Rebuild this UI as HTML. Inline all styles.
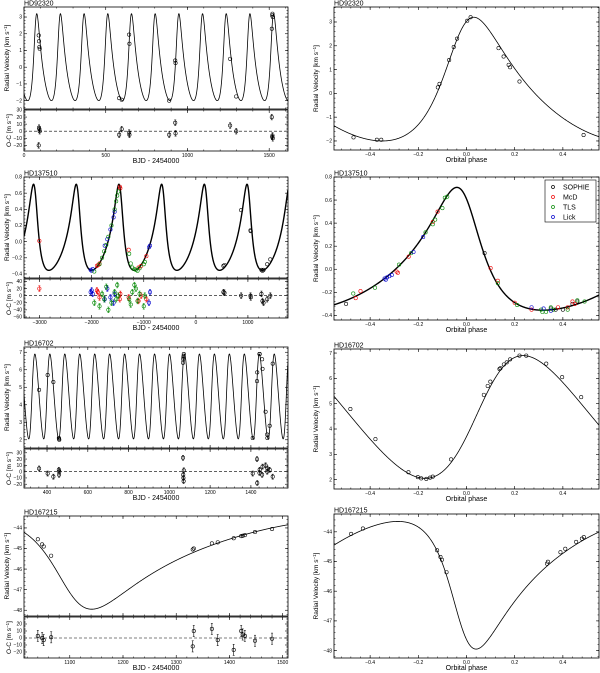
<!DOCTYPE html>
<html><head><meta charset="utf-8">
<style>
html,body{margin:0;padding:0;background:#fff;}
svg{display:block;font-family:"Liberation Sans",sans-serif;}
</style></head>
<body>
<svg id="fig" width="600" height="673" viewBox="0 0 600 673" xmlns="http://www.w3.org/2000/svg"></svg>
<script>
// ---------- DATA ----------
// HD92320 (time domain)
const hd92_t = [90,92,94,96,582,598,643,645,888,925,927,1261,1298,1516,1518,1520,1522];
const hd92_rv = [1.9,1.55,1.2,1.1,-1.85,-1.95,1.95,1.4,-2.0,0.4,0.25,0.5,-1.75,2.3,3.1,3.2,3.0];
const hd92_oc = [-20,5,3,0,-5,3,-2,-5,-5,12,-3,8,0,20,-8,-6,-10];
// HD92320 (phase domain)
const hd92_ph = [-0.469,-0.372,-0.354,-0.119,-0.112,-0.072,-0.053,-0.039,0.003,0.017,0.133,0.154,0.175,0.181,0.22,0.486];
const hd92_prv = [-1.85,-1.95,-1.95,0.25,0.4,1.4,1.95,2.3,3.05,3.2,1.9,1.55,1.2,1.1,0.5,-1.75];
const hd92_fit = {P:144.9, T0:73.6, e:0.32, w:-35, peak:0.03, max:3.2, min:-2.0};

// HD137510 (inst: 0 SOPHIE, 1 McD, 2 TLS, 3 Lick)
const hd137_t = [-2020,-2000,-1980,-1750,-1700,-1640,-1580,-1560,-900,-880,
  -3005,-1900,-1880,-1850,-1460,-1450,-1290,-1100,-1050,-950,
  -1950,-1850,-1800,-1760,-1720,-1680,-1620,-1560,-1530,-1510,-1490,-1280,-1250,-1220,-1180,-1150,-1120,-1080,-1000,-980,
  530,550,870,1050,1055,1260,1280,1300,1370,1430];
const hd137_rv = [-0.35,-0.36,-0.34,-0.05,0.03,0.15,0.3,0.37,-0.07,-0.05,
  0.01,-0.3,-0.29,-0.27,0.68,0.66,-0.1,-0.32,-0.3,-0.18,
  -0.37,-0.28,-0.2,-0.12,-0.04,0.06,0.2,0.4,0.5,0.57,0.62,-0.15,-0.27,-0.32,-0.34,-0.35,-0.36,-0.33,-0.28,-0.25,
  -0.3,-0.29,0.39,0.14,0.13,-0.35,-0.36,-0.35,-0.28,-0.22];
const hd137_oc = [10,15,5,-10,20,-5,-20,5,-20,10,
  20,15,10,-5,-10,5,-5,-15,0,-10,
  -20,-30,5,-10,25,-40,-20,10,-10,30,0,-10,-25,10,30,20,-15,5,-30,0,
  10,8,0,0,-5,5,-15,-20,-10,0];
const hd137_inst = [3,3,3,3,3,3,3,3,3,3, 1,1,1,1,1,1,1,1,1,1,
  2,2,2,2,2,2,2,2,2,2,2,2,2,2,2,2,2,2,2,2, 0,0,0,0,0,0,0,0,0,0];
const hd137_ph = [-0.5,0.075,0.35,0.37,0.4,0.44,0.46,
  -0.46,-0.44,-0.29,-0.285,-0.24,-0.14,-0.12,0.1,0.13,0.2,0.27,0.38,0.42,0.45,0.44,
  -0.47,-0.38,-0.28,-0.23,-0.17,-0.14,-0.13,-0.1,-0.09,-0.08,0.13,0.21,0.31,0.33,0.35,0.36,0.42,0.46,0.49,0.315,
  -0.33,-0.335,-0.32,-0.31,-0.22,-0.18,0.27,0.32,0.35,-0.34];
const hd137_prv = [-0.3,0.14,-0.34,-0.35,-0.35,-0.3,-0.28,
  -0.25,-0.19,-0.02,-0.03,0.11,0.41,0.5,0.01,-0.1,-0.29,-0.35,-0.33,-0.33,-0.3,-0.28,
  -0.21,-0.16,0.04,0.14,0.32,0.39,0.43,0.53,0.62,0.63,-0.12,-0.31,-0.35,-0.37,-0.33,-0.35,-0.35,-0.27,-0.28,-0.37,
  -0.07,-0.09,-0.06,-0.05,0.15,0.28,-0.33,-0.34,-0.36,-0.08];
const hd137_pinst = [0,0,0,0,0,0,0, 1,1,1,1,1,1,1,1,1,1,1,1,1,1,1,
  2,2,2,2,2,2,2,2,2,2,2,2,2,2,2,2,2,2,2,2, 3,3,3,3,3,3,3,3,3,3];
const hd137_fit = {P:820, T0:1016, e:0.40, w:32, peak:-0.04, max:0.71, min:-0.355};
const instNames = ["SOPHIE","McD","TLS","Lick"];
const instColors = ["#000","#e00","#080","#00c"];

// HD16702
const hd167_t = [361,403,431,458,459,460,1067,1068,1069,1070,1071,1409,1430,1431,1442,1443,1455,1457,1472,1480,1481,1492,1507];
const hd167_rv = [4.85,5.7,5.3,2.1,2.05,2.0,6.4,6.6,6.7,6.8,6.9,2.1,5.35,5.85,6.9,6.9,6.6,6.05,3.6,2.3,2.1,2.8,6.35];
const hd167_oc = [5,-3,-8,3,-5,0,22,-5,-10,-15,2,-3,20,-18,-2,3,-5,8,10,0,5,3,-8];
const hd167_ph = [-0.482,-0.378,-0.241,-0.202,-0.188,-0.167,-0.151,-0.14,-0.064,0.072,0.088,0.099,0.137,0.141,0.155,0.167,0.181,0.22,0.248,0.331,0.397,0.476];
const hd167_prv = [4.79,3.6,2.29,2.1,2.05,2.03,2.08,2.12,2.8,5.35,5.7,5.87,6.37,6.4,6.55,6.63,6.75,6.9,6.9,6.58,6.05,5.26];
const hd167_fit = {P:73.4, T0:323, e:0.15, w:-80, peak:0.235, max:6.9, min:2.05};

// HD167215
const hd1672_t = [1040,1048,1051,1065,1331,1333,1367,1378,1408,1422,1425,1429,1448,1480];
const hd1672_rv = [-44.55,-44.8,-44.9,-45.35,-45.05,-45.0,-44.75,-44.7,-44.5,-44.4,-44.38,-44.35,-44.2,-44.05];
const hd1672_oc = [3,0,-3,1,-12,10,13,-3,-17,10,5,3,-4,-1];
const hd1672_ph = [-0.479,-0.43,-0.122,-0.108,-0.102,-0.083,0.334,0.338,0.39,0.41,0.455,0.479,0.487];
const hd1672_prv = [-44.07,-43.89,-44.62,-44.85,-44.94,-45.36,-45.07,-45.01,-44.69,-44.57,-44.34,-44.23,-44.18];
const hd1672_fit = {P:660, T0:1115, e:0.38, w:135, peak:-0.285, max:-43.65, min:-47.95};

// ---------- helpers ----------
const NS="http://www.w3.org/2000/svg";
const svg=document.getElementById('fig');
function el(tag,attrs,parent){const e=document.createElementNS(NS,tag);for(const k in attrs)e.setAttribute(k,attrs[k]);(parent||svg).appendChild(e);return e;}
function fmt(v,dec){let s=v.toFixed(dec);if(Math.abs(v)<1e-9)s=(0).toFixed(dec);return s.replace('-','\u2212');}

function keplerModel(f){
  const e=f.e, w=f.w*Math.PI/180;
  const K=(f.max-f.min)/2, V0=f.max-K*(1+e*Math.cos(w));
  const nup=-w;
  const Ep=2*Math.atan(Math.sqrt((1-e)/(1+e))*Math.tan(nup/2));
  const Mp=Ep-e*Math.sin(Ep);
  const phiP=f.peak-Mp/(2*Math.PI);
  return function(phi){
    let M=2*Math.PI*(phi-phiP);
    M=((M%(2*Math.PI))+2*Math.PI)%(2*Math.PI);
    let E=M;for(let i=0;i<30;i++)E-= (E-e*Math.sin(E)-M)/(1-e*Math.cos(E));
    const nu=2*Math.atan2(Math.sqrt(1+e)*Math.sin(E/2),Math.sqrt(1-e)*Math.cos(E/2));
    return V0+K*(Math.cos(nu+w)+e*Math.cos(w));
  };
}

function panel(name,box,xr,yr,xt,xdec,yt,ydec,showXLabels){
  const g=el('g',{});
  
  
  const sx=v=>box.x+(v-xr[0])/(xr[1]-xr[0])*box.w;
  const sy=v=>box.y+box.h-(v-yr[0])/(yr[1]-yr[0])*box.h;
  const r=el('rect',{x:box.x,y:box.y,width:box.w,height:box.h,fill:'none',stroke:'#000','stroke-width':0.8},g);
  
  const xs=(xt[1]-xt[0])/5, ys=(yt[1]-yt[0])/5;
  for(let v=xt[0]-10*xs; v<=xr[1]+1e-9; v+=xs){ if(v<xr[0])continue; const X=sx(v);
    el('line',{x1:X,y1:box.y+box.h,x2:X,y2:box.y+box.h-1.5,stroke:'#000','stroke-width':0.5},g);
    el('line',{x1:X,y1:box.y,x2:X,y2:box.y+1.5,stroke:'#000','stroke-width':0.5},g);}
  for(let v=yt[0]-10*ys; v<=yr[1]+1e-9; v+=ys){ if(v<yr[0])continue; const Y=sy(v);
    el('line',{x1:box.x,y1:Y,x2:box.x+1.5,y2:Y,stroke:'#000','stroke-width':0.5},g);
    el('line',{x1:box.x+box.w,y1:Y,x2:box.x+box.w-1.5,y2:Y,stroke:'#000','stroke-width':0.5},g);}
  xt.forEach(v=>{const X=sx(v);
    el('line',{x1:X,y1:box.y+box.h,x2:X,y2:box.y+box.h-3,stroke:'#000','stroke-width':0.6},g);
    el('line',{x1:X,y1:box.y,x2:X,y2:box.y+3,stroke:'#000','stroke-width':0.6},g);
    if(showXLabels){const t=el('text',{x:X,y:box.y+box.h+6,'font-size':5,'text-anchor':'middle',fill:'#000'},g);t.textContent=fmt(v,xdec);
      }});
  yt.forEach(v=>{const Y=sy(v);
    el('line',{x1:box.x,y1:Y,x2:box.x+3,y2:Y,stroke:'#000','stroke-width':0.6},g);
    el('line',{x1:box.x+box.w,y1:Y,x2:box.x+box.w-3,y2:Y,stroke:'#000','stroke-width':0.6},g);
    const t=el('text',{x:box.x-2,y:Y+1.7,'font-size':5,'text-anchor':'end',fill:'#000'},g);t.textContent=fmt(v,ydec);
    });
  return {g,sx,sy,box};
}
function clipFor(p,id){const c=el('clipPath',{id:id});el('rect',{x:p.box.x,y:p.box.y,width:p.box.w,height:p.box.h},c);return 'url(#'+id+')';}
function curve(p,fn,x0,x1,sw,color,id){
  let d='';const N=1500;
  for(let i=0;i<=N;i++){const x=x0+(x1-x0)*i/N;d+=(i?'L':'M')+p.sx(x).toFixed(2)+','+p.sy(fn(x)).toFixed(2);}
  const path=el('path',{d:d,fill:'none',stroke:color,'stroke-width':sw,'clip-path':clipFor(p,id)},p.g);
  
}
function point(p,x,y,color,err){
  if(err){const l=el('line',{x1:p.sx(x),x2:p.sx(x),y1:p.sy(y-err),y2:p.sy(y+err),stroke:color,'stroke-width':0.6},p.g);
    
    [y-err,y+err].forEach(v=>el('line',{x1:p.sx(x)-1,x2:p.sx(x)+1,y1:p.sy(v),y2:p.sy(v),stroke:color,'stroke-width':0.5},p.g));}
  const c=el('circle',{cx:p.sx(x),cy:p.sy(y),r:1.7,fill:'none',stroke:color,'stroke-width':0.6},p.g);
  
}
function zeroLine(p){const l=el('line',{x1:p.box.x,x2:p.box.x+p.box.w,y1:p.sy(0),y2:p.sy(0),stroke:'#000','stroke-width':0.6,'stroke-dasharray':'3,2'},p.g);
  }
function text(x,y,s,size,name,rot,anchor){
  const t=el('text',{x:x,y:y,'font-size':size,'text-anchor':anchor||'middle',fill:'#000'});
  if(rot)t.setAttribute('transform','rotate(-90 '+x+' '+y+')');
  t.textContent=s;return t;}
function yLabel(x,yc,resid){
  const t=text(x,yc,'',6.5,resid?'oc-axis-title':'rv-axis-title',true);
  t.textContent=resid?'O-C [m s':'Radial Velocity [km s';
  const ts=el('tspan',{dy:-2,'font-size':4.5},t);ts.textContent='\u22121';
  const t2=el('tspan',{dy:2},t);t2.textContent=']';
}

const LB={x:24,w:264}, RB={x:334,w:265};
function system(cfg){
  const f=cfg.fit, model=keplerModel(f);
  const pm=panel(cfg.id+'-time-panel',{x:LB.x,y:cfg.L[0],w:LB.w,h:cfg.L[1]-cfg.L[0]},cfg.xr,cfg.yr,cfg.xt,0,cfg.yt,cfg.ydec,false);
  curve(pm,t=>model((t-f.T0)/f.P),cfg.xr[0],cfg.xr[1],cfg.lw,'#000',cfg.id+'c1');
  cfg.t.forEach((t,i)=>point(pm,t,cfg.rv[i],cfg.col?cfg.col(i):'#000',0));
  const pr=panel(cfg.id+'-residual-panel',{x:LB.x,y:cfg.R[0],w:LB.w,h:cfg.R[1]-cfg.R[0]},cfg.xr,cfg.rr,cfg.xt,0,cfg.rt,0,true);
  zeroLine(pr);
  cfg.t.forEach((t,i)=>point(pr,t,cfg.oc[i],cfg.col?cfg.col(i):'#000',cfg.err));
  const pp=panel(cfg.id+'-phase-panel',{x:RB.x,y:cfg.P[0],w:RB.w,h:cfg.P[1]-cfg.P[0]},[-0.55,0.55],cfg.pyr,[-0.4,-0.2,0,0.2,0.4],1,cfg.yt,cfg.ydec,true);
  curve(pp,model,-0.55,0.55,cfg.lw,'#000',cfg.id+'c2');
  cfg.ph.forEach((ph,i)=>point(pp,ph,cfg.prv[i],cfg.pcol?cfg.pcol(i):'#000',0));
  text(LB.x,cfg.L[0]-1.5,cfg.name,7,'star-name-left',false,'start');
  text(RB.x,cfg.P[0]-1.5,cfg.name,7,'star-name-right',false,'start');
  yLabel(9,(cfg.L[0]+cfg.L[1])/2,false);
  yLabel(11,(cfg.R[0]+cfg.R[1])/2,true);
  yLabel(318,(cfg.P[0]+cfg.P[1])/2,false);
  text(LB.x+LB.w/2,cfg.R[1]+12,'BJD - 2454000',7,'x-axis-title-time');
  text(RB.x+RB.w/2,cfg.P[1]+12,'Orbital phase',7,'x-axis-title-phase');
  return pp;
}

system({id:'hd92320',name:'HD92320',fit:hd92_fit,t:hd92_t,rv:hd92_rv,oc:hd92_oc,ph:hd92_ph,prv:hd92_prv,err:4,lw:0.8,
  L:[7,109],R:[110,151],P:[7,150],xr:[0,1615],xt:[0,500,1000,1500],yr:[-2.5,3.6],pyr:[-2.38,3.63],yt:[-2,-1,0,1,2,3],ydec:0,
  rr:[-28,30],rt:[-20,-10,0,10,20,30]});
system({id:'hd137510',name:'HD137510',fit:hd137_fit,t:hd137_t,rv:hd137_rv,oc:hd137_oc,ph:hd137_ph,prv:hd137_prv,err:8,lw:1.4,
  col:i=>instColors[hd137_inst[i]],pcol:i=>instColors[hd137_pinst[i]],
  L:[177,278],R:[279,318],P:[177,320],xr:[-3300,1770],xt:[-3000,-2000,-1000,0,1000],yr:[-0.45,0.8],pyr:[-0.44,0.8],yt:[-0.4,-0.2,0,0.2,0.4,0.6,0.8],ydec:1,
  rr:[-63,47],rt:[-60,-40,-20,0,20,40]});
system({id:'hd16702',name:'HD16702',fit:hd167_fit,t:hd167_t,rv:hd167_rv,oc:hd167_oc,ph:hd167_ph,prv:hd167_prv,err:4,lw:0.8,
  L:[347,448],R:[449,488],P:[349,489],xr:[287,1582],xt:[400,600,800,1000,1200,1400],yr:[1.53,7.3],pyr:[1.63,7.16],yt:[2,3,4,5,6,7],ydec:0,
  rr:[-26,36],rt:[-20,-10,0,10,20,30]});
system({id:'hd167215',name:'HD167215',fit:hd1672_fit,t:hd1672_t,rv:hd1672_rv,oc:hd1672_oc,ph:hd1672_ph,prv:hd1672_prv,err:8,lw:0.8,
  L:[516,616],R:[617,658],P:[514,658],xr:[1014,1510],xt:[1100,1200,1300,1400,1500],yr:[-48.28,-43.42],pyr:[-48.25,-43.4],yt:[-48,-47,-46,-45,-44],ydec:0,
  rr:[-28.6,30],rt:[-20,-10,0,10,20]});

// legend
const lg=el('g',{});


el('rect',{x:545,y:180,width:51,height:42,fill:'#fff',stroke:'#000','stroke-width':0.6},lg);
instNames.forEach((n,i)=>{
  const y=187+i*10;
  const c=el('circle',{cx:553,cy:y,r:1.5,fill:'none',stroke:instColors[i],'stroke-width':0.7},lg);
  
  const t=el('text',{x:563,y:y+2.5,'font-size':7,fill:'#000'},lg);t.textContent=n;
  
});
</script>
</body></html>
